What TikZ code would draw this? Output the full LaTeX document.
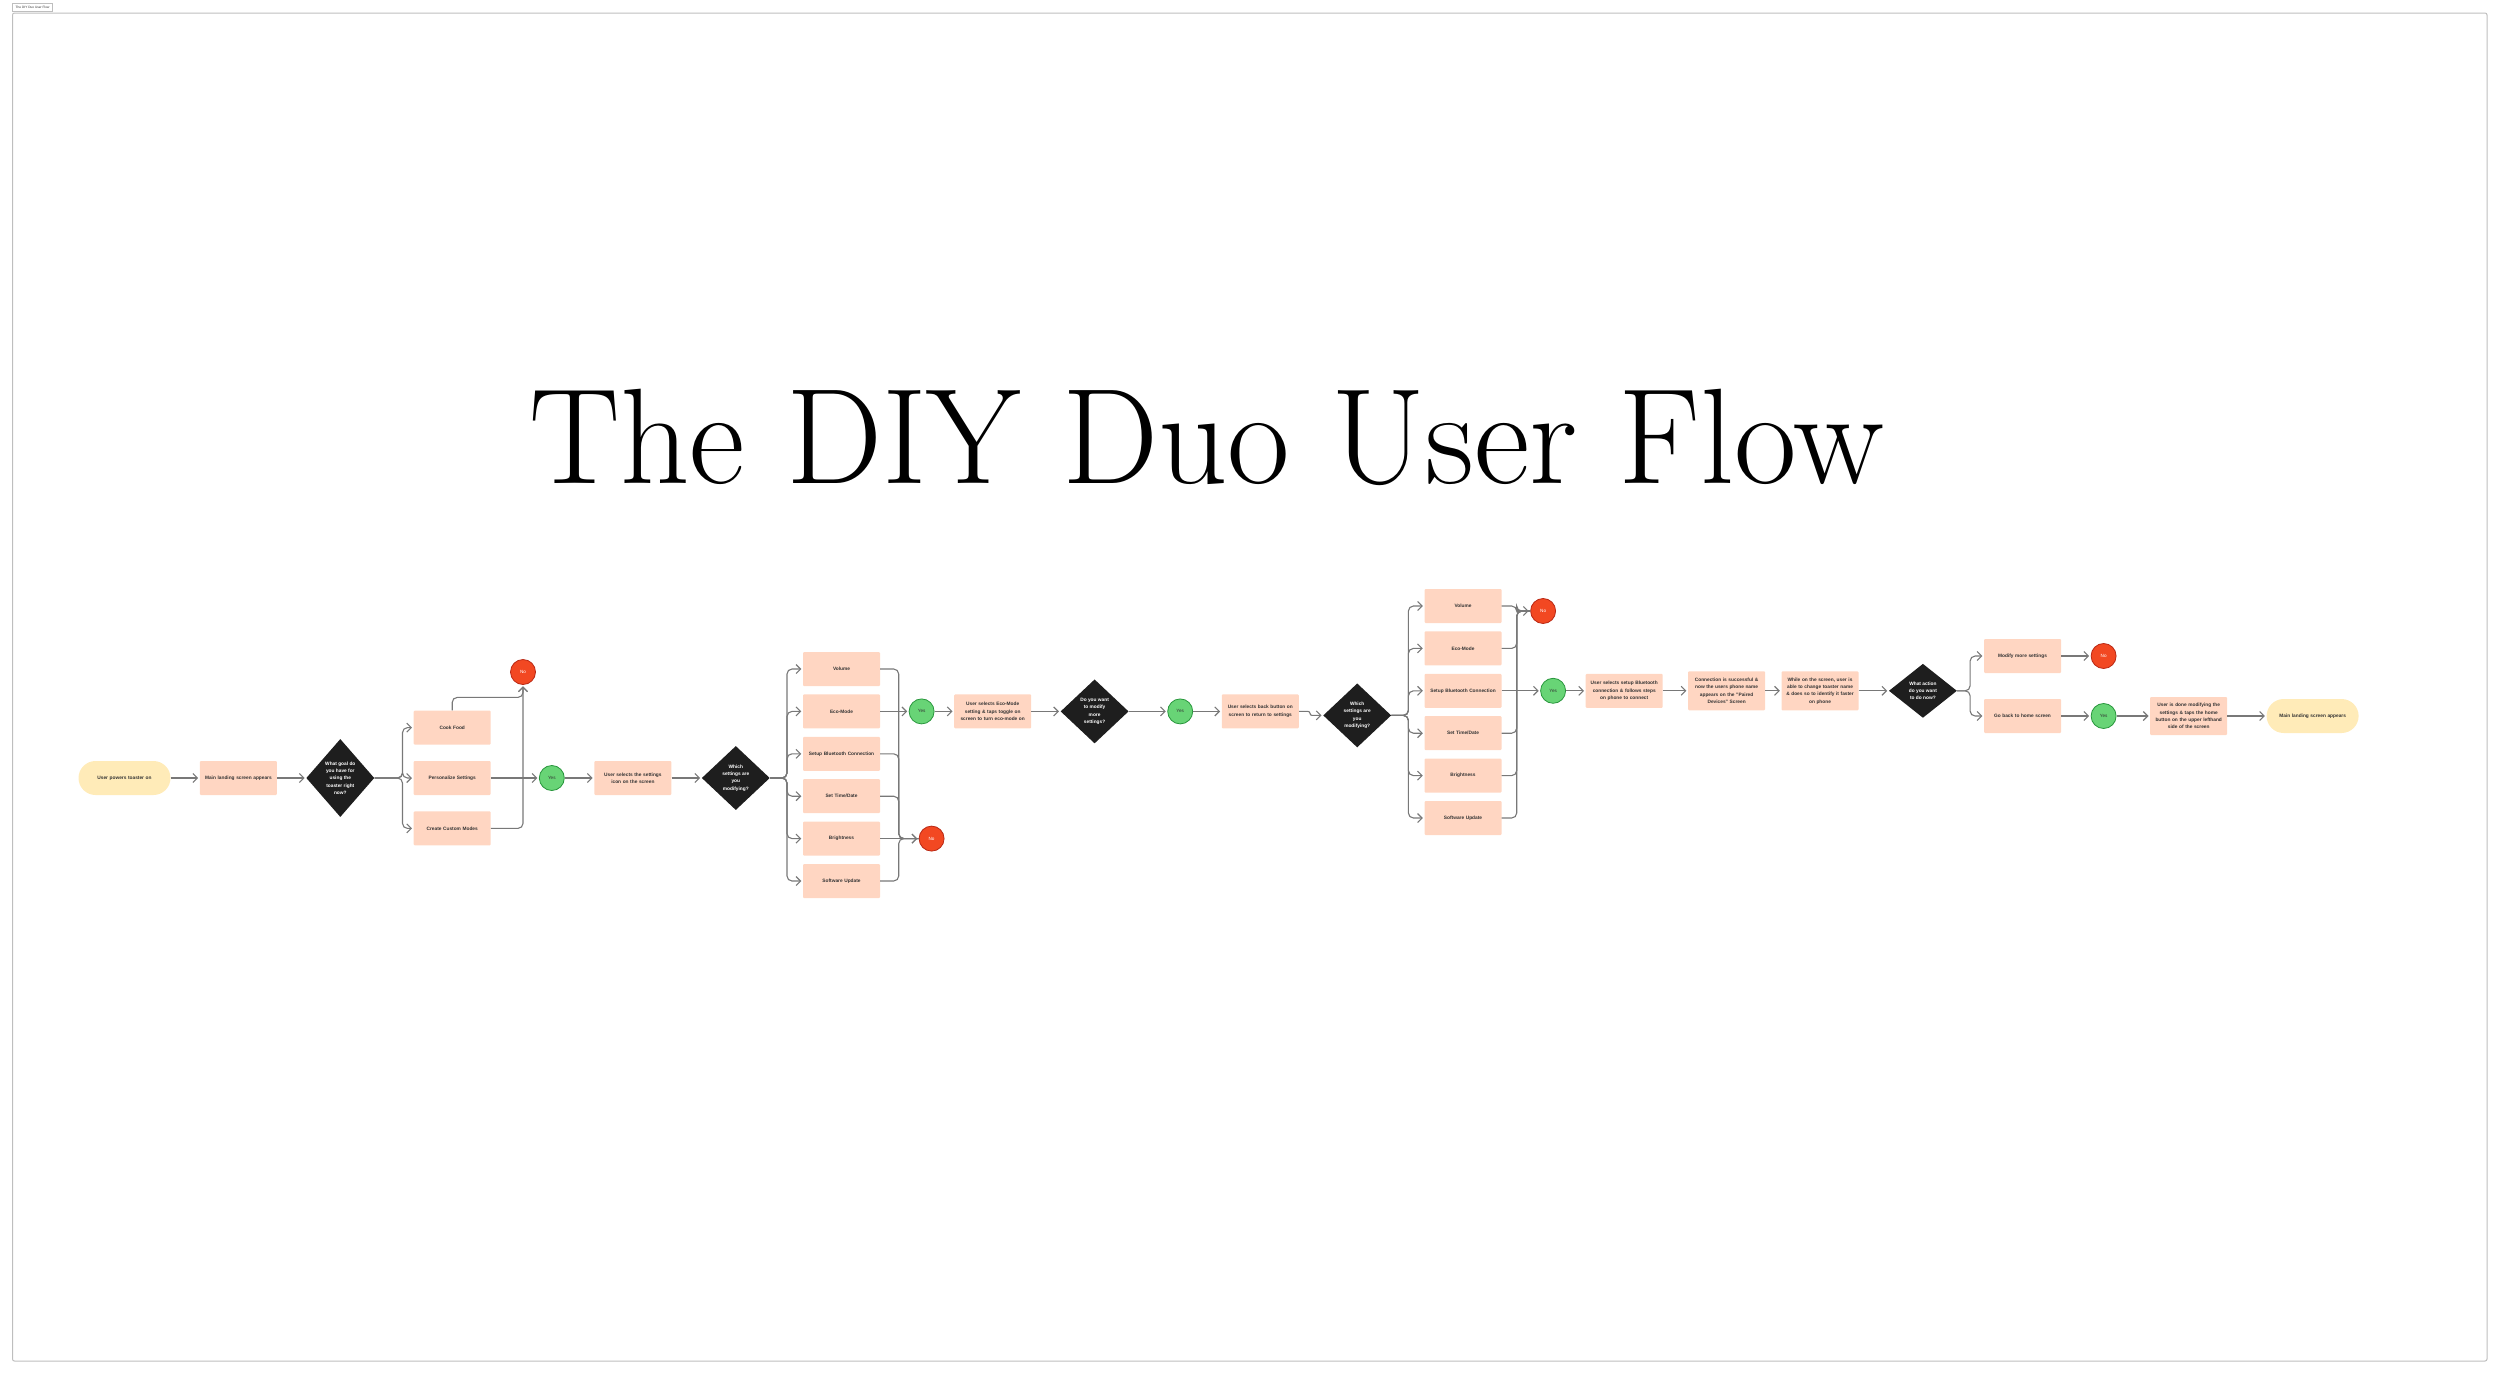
\documentclass[tikz,border=0pt]{standalone}
\usepackage{fontspec}
\setsansfont{Liberation Sans}
\usetikzlibrary{shapes.geometric,positioning,arrows.meta,calc}
\definecolor{FlowPeach}{RGB}{255,214,194}
\definecolor{FlowCream}{RGB}{255,235,184}
\definecolor{FlowInk}{RGB}{30,30,30}
\definecolor{FlowText}{RGB}{51,51,51}
\definecolor{FlowRed}{RGB}{242,72,34}
\definecolor{FlowRedEdge}{RGB}{185,40,20}
\definecolor{FlowGreen}{RGB}{104,212,118}
\definecolor{FlowGreenEdge}{RGB}{40,150,60}
\definecolor{FlowLine}{RGB}{120,120,120}
\definecolor{FlowFrame}{RGB}{190,190,190}
\tikzset{
    stepbox/.style={fill=FlowPeach, rectangle, rounded corners=1pt,
                    text width=71pt, inner xsep=3pt, minimum height=34pt,
                    align=center, text=FlowText,
                    font=\sffamily\bfseries\fontsize{4.8}{7.3}\selectfont},
    terminal/.style={fill=FlowCream, rectangle, rounded corners=17pt,
                     text width=86pt, inner xsep=3pt, minimum height=34pt,
                     align=center, text=FlowText,
                     font=\sffamily\bfseries\fontsize{4.8}{7.3}\selectfont},
    decision/.style={fill=FlowInk, diamond, inner sep=0pt,
                     minimum width=68pt, minimum height=64pt,
                     align=center, text=white,
                     font=\sffamily\bfseries\fontsize{4.8}{7.3}\selectfont},
    nobubble/.style={circle, fill=FlowRed, draw=FlowRedEdge, line width=0.8pt,
                     minimum size=25pt, inner sep=0pt, text=white,
                     font=\sffamily\fontsize{4.6}{5}\selectfont},
    yesbubble/.style={circle, fill=FlowGreen, draw=FlowGreenEdge, line width=0.8pt,
                      minimum size=25pt, inner sep=0pt, text=FlowText,
                      font=\sffamily\fontsize{4.6}{5}\selectfont},
    tag/.style={draw=FlowFrame, line width=0.5pt, rectangle, inner sep=0pt,
                minimum width=40pt, minimum height=8.3pt, text=FlowText,
                font=\sffamily\fontsize{3.2}{3.6}\selectfont},
    % Arrow styles
    flow/.style={draw=FlowLine, line width=1.1pt, rounded corners=5pt,
                 -{Straight Barb[length=4.5pt,width=9pt]}, shorten >=1.5pt},
    link/.style={draw=FlowLine, line width=1.1pt, rounded corners=5pt}
}

\begin{document}
\begin{tikzpicture}[x=1pt, y=-1pt]
    \useasboundingbox (0,0) rectangle (2500,1374);

    % Frame and title
    \draw[FlowFrame, line width=1pt, rounded corners=2pt] (12.5,13) rectangle (2487,1361);
    \node[tag, anchor=north west] (tagline) at (12.3,2.7) {The DIY Duo User Flow};
    \node[font=\fontsize{136}{136}\selectfont\addfontfeature{FakeBold=1.2}, anchor=base]
        (title) at (1207,483) {The DIY Duo User Flow};

    % Start and first choice
    \node[terminal] (start) at (124.5,778) {User powers toaster on};
    \node[stepbox, right=29pt of start] (landing) {Main landing screen appears};
    \node[decision, minimum height=78pt, right=29pt of landing] (goal)
        {What goal do\\you have for\\using the\\toaster right\\now?};
    \node[stepbox, right=39pt of goal] (personalize) {Personalize Settings};
    \node[stepbox, above=16pt of personalize] (cook) {Cook Food};
    \node[stepbox, below=16pt of personalize] (custom) {Create Custom Modes};
    \node[nobubble] (noA) at (523,672) {No};
    \node[yesbubble, right=48pt of personalize] (yesA) {Yes};
    \node[stepbox, right=29.5pt of yesA] (icon)
        {User selects the settings\\icon on the screen};
    \node[decision, right=30pt of icon] (whichA)
        {Which\\settings are\\you\\modifying?};

    % First settings column
    \node[stepbox] (volA) at (841.5,669) {Volume};
    \node[stepbox, below=8pt of volA] (ecoA) {Eco-Mode};
    \node[stepbox, below=8pt of ecoA] (btA) {Setup Bluetooth Connection};
    \node[stepbox, below=8pt of btA] (timeA) {Set Time/Date};
    \node[stepbox, below=8pt of timeA] (brightA) {Brightness};
    \node[stepbox, below=8pt of brightA] (softA) {Software Update};
    \node[yesbubble, right=28.5pt of ecoA] (yesB) {Yes};
    \node[nobubble, right=38.5pt of brightA] (noB) {No};
    \coordinate[left=20pt of noB.west] (joinA);

    % Eco-mode path
    \node[stepbox, right=19.5pt of yesB] (ecoset)
        {User selects Eco-Mode\\setting \& taps toggle on\\screen to turn eco-mode on};
    \node[decision, right=29pt of ecoset] (more)
        {Do you want\\to modify\\more\\settings?};
    \node[yesbubble, right=38.5pt of more] (yesC) {Yes};
    \node[stepbox, right=28.5pt of yesC] (back)
        {User selects back button on\\screen to return to settings};
    \node[decision, right=24pt of back, yshift=-4pt] (whichB)
        {Which\\settings are\\you\\modifying?};

    % Second settings column
    \node[stepbox] (volB) at (1463,606) {Volume};
    \node[stepbox, below=8pt of volB] (ecoB) {Eco-Mode};
    \node[stepbox, below=8pt of ecoB] (btB) {Setup Bluetooth Connection};
    \node[stepbox, below=8pt of btB] (timeB) {Set Time/Date};
    \node[stepbox, below=8pt of timeB] (brightB) {Brightness};
    \node[stepbox, below=8pt of brightB] (softB) {Software Update};
    \node[nobubble, right=28.5pt of volB, yshift=-5pt] (noC) {No};
    \node[yesbubble, right=38.5pt of btB] (yesD) {Yes};
    \coordinate[left=13.5pt of noC.west] (joinB);

    % Bluetooth path
    \node[stepbox, right=19.5pt of yesD] (btset)
        {User selects setup Bluetooth\\connection \& follows steps\\on phone to connect};
    \node[stepbox, minimum height=39pt, right=25pt of btset] (paired)
        {Connection is successful \&\\now the users phone name\\appears on the "Paired\\Devices" Screen};
    \node[stepbox, minimum height=39pt, right=16pt of paired] (rename)
        {While on the screen, user is\\able to change toaster name\\\& does so to identify it faster\\on phone};
    \node[decision, minimum height=54pt, right=30pt of rename] (action)
        {What action\\do you want\\to do now?};
    \node[stepbox] (modify) at (2022.5,656) {Modify more settings};
    \node[stepbox] (home) at (2022.5,716) {Go back to home screen};
    \node[nobubble, right=29.5pt of modify] (noD) {No};
    \node[yesbubble, right=29.5pt of home] (yesE) {Yes};
    \node[stepbox, minimum height=38pt, right=33.5pt of yesE] (done)
        {User is done modifying the\\settings \& taps the home\\button on the upper lefthand\\side of the screen};
    \node[terminal, right=39pt of done] (finish) {Main landing screen appears};

    % Main chain
    \draw[flow] (start) -- (landing);
    \draw[flow] (landing) -- (goal);
    \foreach \n in {cook,personalize,custom}
        \draw[flow] (goal.east) -- ++(28,0) |- (\n.west);
    \draw[flow] (cook.north) -- ++(0,-13) -| (noA.south);
    \draw[flow] (custom.east) -| (noA.south);
    \draw[flow] (personalize) -- (yesA);
    \draw[flow] (yesA) -- (icon);
    \draw[flow] (icon) -- (whichA);

    % First settings column
    \foreach \n in {volA,ecoA,btA,timeA,brightA,softA}
        \draw[flow] (whichA.east) -- ++(17,0) |- (\n.west);
    \foreach \n in {volA,btA,timeA,softA}
        \draw[link] (\n.east) -| (joinA) -- (noB.west);
    \draw[flow] (brightA.east) -- (noB.west);
    \draw[flow] (ecoA) -- (yesB);
    \draw[flow] (yesB) -- (ecoset);
    \draw[flow] (ecoset) -- (more);
    \draw[flow] (more) -- (yesC);
    \draw[flow] (yesC) -- (back);
    \draw[flow, rounded corners=2pt] (back.east) -- ++(11,0) |- (whichB.west);

    % Second settings column
    \foreach \n in {volB,ecoB,btB,timeB,brightB,softB}
        \draw[flow] (whichB.east) -- ++(17,0) |- (\n.west);
    \foreach \n in {volB,ecoB,timeB,brightB,softB}
        \draw[link] (\n.east) -| (joinB) -- (noC.west);
    \draw[flow] (joinB) -- (noC.west);
    \draw[flow] (btB) -- (yesD);
    \draw[flow] (yesD) -- (btset);
    \draw[flow] (btset) -- (paired);
    \draw[flow] (paired) -- (rename);
    \draw[flow] (rename) -- (action);

    % Final choice
    \foreach \n in {modify,home}
        \draw[flow] (action.east) -- ++(13,0) |- (\n.west);
    \draw[flow] (modify) -- (noD);
    \draw[flow] (home) -- (yesE);
    \draw[flow] (yesE) -- (done);
    \draw[flow] (done) -- (finish);

    % Arrow tip for first column
    \draw[flow] (joinA) -- (noB.west);
\end{tikzpicture}
\end{document}
